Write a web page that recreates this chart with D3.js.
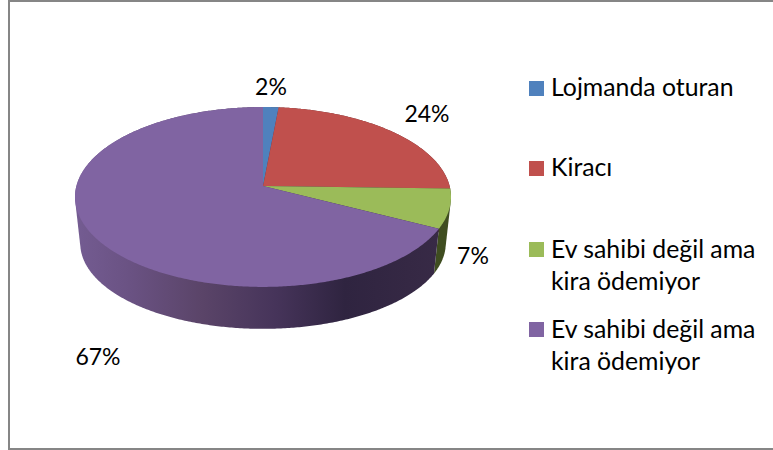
<!DOCTYPE html>
<html><head><meta charset="utf-8">
<script src="https://cdn.jsdelivr.net/npm/d3@7"></script>
<style>html,body{margin:0;padding:0;background:#fff}svg{display:block}text{font-family:Lato,sans-serif;fill:#000}</style>
</head><body><svg id="c" width="773" height="450"></svg>
<script>
const categories = ["Lojmanda oturan","Kiracı","Ev sahibi değil ama kira ödemiyor","Ev sahibi değil ama kira ödemiyor"];
const values = [1.5,23.9,7.1,67.4];
const colors = ["#4f81bd","#c0504d","#9bbb59","#8064a2"];
const sideColors = ["#2a4060","#60282a","#3f4d20","#372a45"];
const legendLines = [["Lojmanda oturan"],["Kiracı"],["Ev sahibi değil ama","kira ödemiyor"],["Ev sahibi değil ama","kira ödemiyor"]];
const legendBaseline = [96,176,258,338];
const legendSwatchTop = [81,161,242,322];
const labelPos = [[271,87],[427,114],[473,256],[98,357]];

const svg = d3.select("#c");
svg.append("rect").attr("x",9).attr("y",1).attr("width",780).attr("height",448).attr("fill","#fff").attr("stroke","#868686").attr("stroke-width",2);

const cx=263, cy=186, A=186.6, B=88.6, k=0.122;
const shrinkX=0.972, shrinkY=0.95, depth=47;
function topPt(a){const u=Math.sin(a),v=-Math.cos(a),w=1-k*v;return [cx+A*u/w,cy+B*v/w];}
function botPt(a){const p=topPt(a);return [cx+(p[0]-cx)*shrinkX,cy+(p[1]-cy)*shrinkY+depth];}
const pie=d3.pie().sort(null).value(d=>d)(values);
const line=d3.line();
const steps=(s,e)=>{const n=Math.max(2,Math.ceil((e-s)/0.01));return d3.range(n+1).map(i=>s+(e-s)*i/n);};

const defs=svg.append("defs");
const grad=defs.append("linearGradient").attr("id","side").attr("gradientUnits","userSpaceOnUse").attr("x1",75).attr("x2",440).attr("y1",0).attr("y2",0);
[[0,"#745c92"],[0.15,"#6a5283"],[0.35,"#5a4468"],[0.55,"#46345a"],[0.74,"#2f2440"],[1,"#382a46"]].forEach(s=>grad.append("stop").attr("offset",s[0]).attr("stop-color",s[1]));

pie.forEach((d,i)=>{
  const as=steps(d.startAngle,d.endAngle);
  const hull=d3.polygonHull(as.map(topPt).concat(as.map(botPt)));
  svg.append("path").attr("d",line(hull)+"Z").attr("fill",i===3?"url(#side)":sideColors[i]);
});
pie.forEach((d,i)=>{
  const pts=[[cx,cy]].concat(steps(d.startAngle,d.endAngle).map(topPt));
  svg.append("path").attr("d",line(pts)+"Z").attr("fill",colors[i]);
});
values.forEach((v,i)=>{
  svg.append("text").attr("x",labelPos[i][0]).attr("y",labelPos[i][1]+8).attr("text-anchor","middle").attr("font-size",23).text(d3.format(".0f")(Math.floor(v+0.5))+"%");
});
legendLines.forEach((ls,i)=>{
  svg.append("rect").attr("x",529).attr("y",legendSwatchTop[i]).attr("width",15).attr("height",15).attr("fill",colors[i]);
  ls.forEach((t,j)=>svg.append("text").attr("x",551).attr("y",legendBaseline[i]+j*32).attr("font-size",24.8).text(t));
});
</script></body></html>
